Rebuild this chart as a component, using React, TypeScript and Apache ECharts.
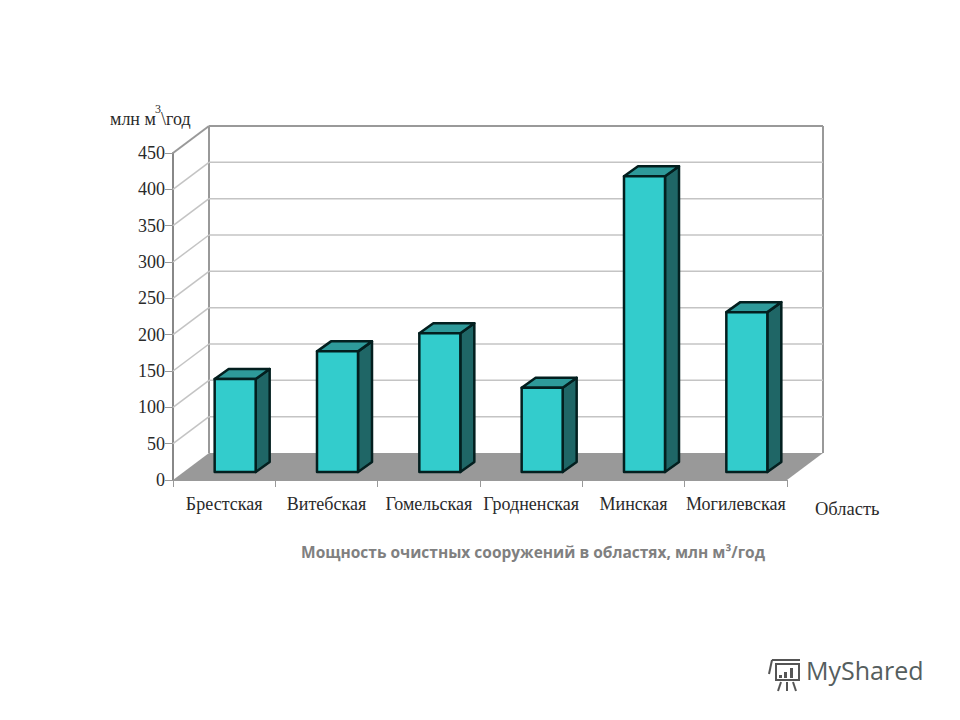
import React, { useEffect, useRef } from "react";
import * as echarts from "echarts";

const regions = ["Брестская", "Витебская", "Гомельская", "Гродненская", "Минская", "Могилевская"];
const capacity = [128, 166, 191, 116, 407, 220];
const yTicks = [50, 100, 150, 200, 250, 300, 350, 400, 450];
const titleText = "Мощность очистных сооружений в областях, млн м³/год";

const SERIF = '"Liberation Serif", "DejaVu Serif", serif';
const WALL_DX = 36;
const WALL_DY = -27;
const BAR_W = 41;
const BAR_SHIFT_X = 11;
const BAR_SHIFT_Y = -8;
const BAR_DX = 14;
const BAR_DY = -10;

const poly = (points: number[][], fill: string, stroke?: string, lineWidth = 1) => ({
  type: "polygon",
  shape: { points },
  style: { fill, stroke: stroke || "none", lineWidth, lineJoin: "round" },
});
const seg = (x1: number, y1: number, x2: number, y2: number, stroke: string, lineWidth: number) => ({
  type: "line",
  shape: { x1, y1, x2, y2 },
  style: { stroke, lineWidth },
});

function renderFloor(_: any, api: any) {
  const band = api.size([1, 0])[0];
  const a = api.coord([0, 0]);
  const b = api.coord([regions.length - 1, 0]);
  const l = a[0] - band / 2;
  const r = b[0] + band / 2;
  const y = a[1];
  return {
    type: "group",
    children: [
      poly([[l, y], [r, y], [r + WALL_DX, y + WALL_DY], [l + WALL_DX, y + WALL_DY]], "#999999"),
      seg(l + WALL_DX, y + WALL_DY, l + WALL_DX, api.coord([0, 450])[1] + WALL_DY, "#999999", 2),
      seg(r + WALL_DX, y + WALL_DY, r + WALL_DX, api.coord([0, 450])[1] + WALL_DY, "#999999", 2),
    ],
  };
}

function renderGridLine(_: any, api: any) {
  const band = api.size([1, 0])[0];
  const v = api.value(0);
  const a = api.coord([0, v]);
  const b = api.coord([regions.length - 1, v]);
  const l = a[0] - band / 2;
  const r = b[0] + band / 2;
  const y = a[1];
  const top = v === 450;
  const color = top ? "#999999" : "#c4c4c4";
  const w = top ? 2 : 1.5;
  return {
    type: "group",
    children: [
      seg(l, y, l + WALL_DX, y + WALL_DY, color, w),
      seg(l + WALL_DX, y + WALL_DY, r + WALL_DX, y + WALL_DY, color, w),
    ],
  };
}

function renderBar(_: any, api: any) {
  const top = api.coord([api.value(0), api.value(1)]);
  const base = api.coord([api.value(0), 0]);
  const l = top[0] - BAR_W / 2 + BAR_SHIFT_X;
  const r = l + BAR_W;
  const t = top[1] + BAR_SHIFT_Y;
  const b = base[1] + BAR_SHIFT_Y;
  const stroke = "#031f1f";
  return {
    type: "group",
    children: [
      poly([[r, t], [r + BAR_DX, t + BAR_DY], [r + BAR_DX, b + BAR_DY], [r, b]], "#1f6666", stroke, 2.5),
      poly([[l, t], [l + BAR_DX, t + BAR_DY], [r + BAR_DX, t + BAR_DY], [r, t]], "#2e9a9a", stroke, 2.5),
      poly([[l, t], [r, t], [r, b], [l, b]], "#33cccc", stroke, 2.5),
    ],
  };
}

export default function App() {
  const ref = useRef<HTMLDivElement>(null);
  useEffect(() => {
    const chart = echarts.init(ref.current!, undefined, { renderer: "svg" });
    const serifText = { fontFamily: SERIF, fontSize: 18, fill: "#2a2a2a" };
    chart.setOption({
      animation: false,
      backgroundColor: "#ffffff",
      title: {
        text: titleText,
        left: 528,
        top: 539,
        textAlign: "center",
        textStyle: { fontFamily: '"Open Sans", sans-serif', fontWeight: "bold", fontSize: 15.5, color: "#808080" },
      },
      grid: { left: 173, top: 153, width: 614, height: 327 },
      xAxis: {
        type: "category",
        data: regions,
        axisLine: { lineStyle: { color: "#999999", width: 1 } },
        axisTick: { show: true, length: 7, alignWithLabel: false, lineStyle: { color: "#999999" } },
        axisLabel: { interval: 0, margin: 15, fontFamily: SERIF, fontSize: 18, color: "#2a2a2a" },
        splitLine: { show: false },
      },
      yAxis: {
        type: "value",
        min: 0,
        max: 450,
        interval: 50,
        axisLine: { show: true, lineStyle: { color: "#888888", width: 2 } },
        axisTick: { show: true, length: 8, lineStyle: { color: "#999999" } },
        axisLabel: { margin: 8, fontFamily: SERIF, fontSize: 18, color: "#2a2a2a" },
        splitLine: { show: false },
      },
      series: [
        { type: "custom", silent: true, z: 1, renderItem: renderFloor, data: [[0]] },
        {
          type: "custom",
          silent: true,
          z: 2,
          renderItem: renderGridLine,
          encode: { y: 0 },
          data: yTicks.map((v) => [v]),
        },
        {
          type: "custom",
          z: 3,
          renderItem: renderBar,
          encode: { x: 0, y: 1 },
          data: capacity.map((v, i) => [i, v]),
        },
      ],
      graphic: [
        { type: "text", x: 110, y: 110, style: { ...serifText, text: "млн м" } },
        { type: "text", x: 155, y: 103, style: { ...serifText, fontSize: 12, text: "3" } },
        { type: "text", x: 161, y: 110, style: { ...serifText, text: "\\год" } },
        { type: "text", x: 815, y: 499, style: { ...serifText, fontSize: 18.5, text: "Область" } },
        {
          type: "group",
          children: [
            { type: "line", shape: { x1: 772, y1: 660, x2: 800, y2: 660 }, style: { stroke: "#555", lineWidth: 2 } },
            { type: "line", shape: { x1: 772, y1: 660, x2: 769, y2: 674 }, style: { stroke: "#555", lineWidth: 2 } },
            { type: "rect", shape: { x: 776, y: 664, width: 23, height: 16 }, style: { fill: "none", stroke: "#555", lineWidth: 2 } },
            { type: "rect", shape: { x: 779, y: 675, width: 3, height: 3 }, style: { fill: "#555" } },
            { type: "rect", shape: { x: 784, y: 672, width: 3, height: 6 }, style: { fill: "#555" } },
            { type: "rect", shape: { x: 790, y: 668, width: 3, height: 10 }, style: { fill: "#555" } },
            { type: "line", shape: { x1: 781, y1: 682, x2: 778, y2: 691 }, style: { stroke: "#555", lineWidth: 2 } },
            { type: "line", shape: { x1: 787, y1: 682, x2: 787, y2: 691 }, style: { stroke: "#555", lineWidth: 2 } },
            { type: "line", shape: { x1: 793, y1: 682, x2: 796, y2: 691 }, style: { stroke: "#555", lineWidth: 2 } },
          ],
        },
        {
          type: "text",
          x: 806,
          y: 657,
          style: { text: "MyShared", fontFamily: '"Open Sans", sans-serif', fontSize: 25, fill: "#555e5e" },
        },
      ],
    });
    return () => chart.dispose();
  }, []);
  return <div ref={ref} style={{ position: "absolute", left: 0, top: 0, width: 960, height: 720 }} />;
}
